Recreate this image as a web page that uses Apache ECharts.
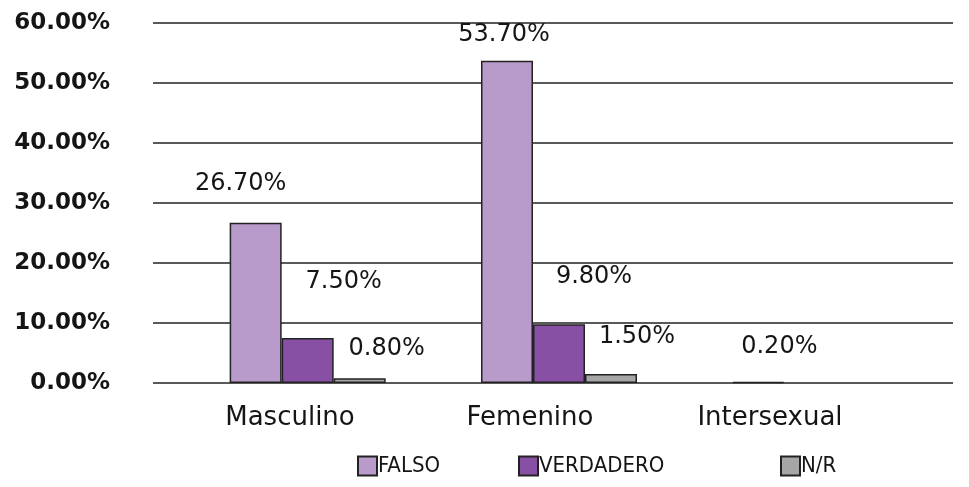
<!DOCTYPE html>
<html>
<head>
<meta charset="utf-8">
<script src="https://cdn.jsdelivr.net/npm/echarts@6/dist/echarts.min.js"></script>
<style>
html,body{margin:0;padding:0;background:#fff;}
#chart{width:969px;height:487px;}
</style>
</head>
<body>
<div id="chart"></div>
<script>
const categories = ['Masculino', 'Femenino', 'Intersexual'];
const seriesNames = ['FALSO', 'VERDADERO', 'N/R'];
const falso = [26.7, 53.7, 0.2];
const verdadero = [7.5, 9.8, 0];
const nr = [0.8, 1.5, 0];
const yTicks = [0, 10, 20, 30, 40, 50, 60];

// label placement styles (offsets in px, like the original's hand-placed labels)
const labelOffsets = [
  [[-15, -22], [-3, -9], [21, -18]],
  [[36, -39], [35, -30], [0, 0]],
  [[27, -12], [26, -20], [0, 0]]
];
const colors = ['#B99BCB', '#8750A5', '#A6A6A6'];
const values = [falso, verdadero, nr];

const chart = echarts.init(document.getElementById('chart'));

const series = seriesNames.map((name, si) => ({
  name: name,
  type: 'bar',
  xAxisIndex: 1,
  yAxisIndex: 1,
  barWidth: 52,
  barGap: '0%',
  itemStyle: { color: colors[si], borderColor: '#222', borderWidth: 1.5 },
  label: {
    show: true,
    position: 'top',
    distance: 5,
    fontFamily: 'DejaVu Sans',
    fontSize: 24,
    color: '#151515',
    formatter: p => Number(p.value).toFixed(2) + '%'
  },
  data: values[si].map((v, ci) => v === 0
    ? { value: v, itemStyle: { borderWidth: 0 }, label: { show: false } }
    : { value: v, label: { offset: labelOffsets[si][ci] } })
}));

const legendPos = [357, 518, 780];

chart.setOption({
  animation: false,
  backgroundColor: '#fff',
  grid: [
    { left: 153, right: 16, top: 23, height: 360 },
    { left: 182, right: 33, top: 23, height: 360 },
    { left: 170, right: 79, top: 23, height: 360 }
  ],
  xAxis: [
    { gridIndex: 0, type: 'value', show: false, min: 0, max: 1 },
    {
      gridIndex: 1, type: 'category', data: categories,
      axisLine: { show: false }, axisTick: { show: false }, axisLabel: { show: false }
    },
    {
      gridIndex: 2, type: 'category', data: categories,
      axisLine: { show: false }, axisTick: { show: false },
      axisLabel: { fontFamily: 'DejaVu Sans', fontSize: 26, color: '#151515', margin: 22 }
    }
  ],
  yAxis: [
    {
      gridIndex: 0, type: 'value', min: yTicks[0], max: yTicks[yTicks.length - 1], interval: 10,
      axisLine: { show: false }, axisTick: { show: false },
      splitLine: { lineStyle: { color: '#222', width: 1.5 } },
      axisLabel: {
        fontFamily: 'DejaVu Sans', fontWeight: 'bold', fontSize: 23, color: '#151515', margin: 43,
        formatter: v => v.toFixed(2) + '%'
      }
    },
    { gridIndex: 1, type: 'value', min: 0, max: 60, show: false, splitLine: { show: false } },
    { gridIndex: 2, type: 'value', min: 0, max: 60, show: false, splitLine: { show: false } }
  ],
  legend: seriesNames.map((n, i) => ({
    data: [n],
    left: legendPos[i],
    top: 455,
    padding: 0,
    itemWidth: 19,
    itemHeight: 19,
    itemGap: 0,
    icon: 'rect',
    textStyle: { fontFamily: 'DejaVu Sans Condensed', fontSize: 22, color: '#151515', padding: [0, 0, 0, -4] }
  })),
  series: series
});
</script>
</body>
</html>
